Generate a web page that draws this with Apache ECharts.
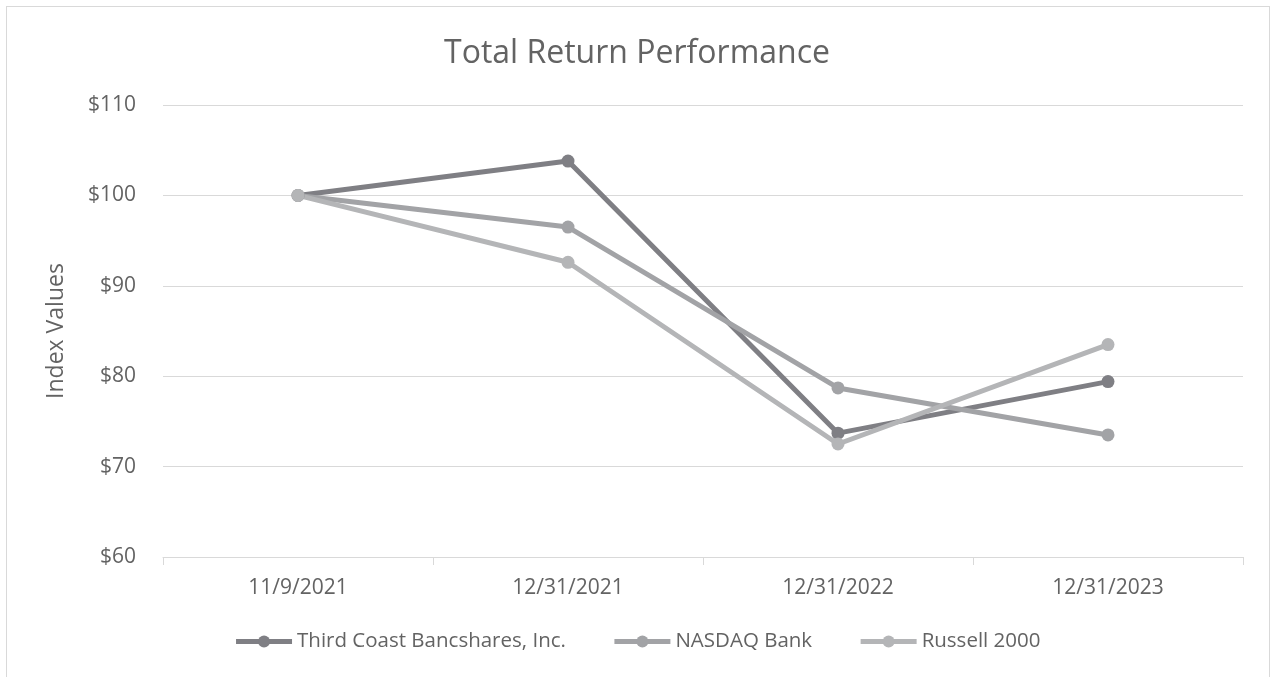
<!DOCTYPE html>
<html>
<head>
<meta charset="utf-8">
<script src="https://cdn.jsdelivr.net/npm/echarts@6/dist/echarts.min.js"></script>
<style>
  html, body { margin: 0; padding: 0; background: #fff; }
  #frame { position: absolute; left: 6px; top: 6px; width: 1262px; height: 680px; border: 1px solid #d9d9d9; border-bottom: none; }
  #chart { position: absolute; left: 0; top: 0; width: 1274px; height: 677px; }
</style>
</head>
<body>
<div id="frame"></div>
<div id="chart"></div>
<script>
// periods on the x axis
const periods = ['11/9/2021', '12/31/2021', '12/31/2022', '12/31/2023']

// index values
const thirdCoast = [100, 103.8, 73.7, 79.4]
const nasdaqBank = [100, 96.5, 78.7, 73.5]
const russell2000 = [100, 92.6, 72.5, 83.5]

const seriesNames = ['Third Coast Bancshares, Inc.', 'NASDAQ Bank', 'Russell 2000']
const seriesColors = ['#7f7f84', '#a2a3a6', '#b4b5b7']

const font = '"Open Sans", "Liberation Sans", sans-serif'
const textColor = '#636363'

const chart = echarts.init(document.getElementById('chart'))

function makeLine(name, data, color) {
  return {
    name,
    type: 'line',
    data,
    symbol: 'circle',
    symbolSize: 13,
    lineStyle: { width: 5, color },
    itemStyle: { color },
    z: 2,
  }
}

const option = {
  animation: false,
  title: {
    text: 'Total Return Performance',
    left: 'center',
    top: 33,
    textStyle: { fontFamily: font, fontSize: 32, fontWeight: 'normal', color: textColor },
  },
  legend: {
    bottom: 20,
    left: 'center',
    itemWidth: 56,
    itemHeight: 15,
    itemGap: 46,
    lineStyle: { width: 5 },
    textStyle: { fontFamily: font, fontSize: 20.5, color: textColor },
    data: seriesNames,
  },
  grid: { left: 163, right: 31, top: 105, bottom: 120 },
  xAxis: {
    type: 'category',
    data: periods,
    boundaryGap: true,
    axisLine: { lineStyle: { color: '#d9d9d9', width: 1 } },
    axisTick: { show: true, length: 8, lineStyle: { color: '#d9d9d9' } },
    axisLabel: { fontFamily: font, fontSize: 21, color: textColor, margin: 21 },
  },
  yAxis: {
    type: 'value',
    min: 60,
    max: 110,
    interval: 10,
    name: 'Index Values',
    nameLocation: 'middle',
    nameGap: 95,
    nameTextStyle: { fontFamily: font, fontSize: 23, color: textColor },
    axisLine: { show: false },
    axisTick: { show: false },
    splitLine: { lineStyle: { color: '#d9d9d9', width: 1 } },
    axisLabel: { fontFamily: font, fontSize: 21, color: textColor, margin: 27, formatter: v => '$' + v },
  },
  series: [
    makeLine(seriesNames[0], thirdCoast, seriesColors[0]),
    makeLine(seriesNames[1], nasdaqBank, seriesColors[1]),
    makeLine(seriesNames[2], russell2000, seriesColors[2]),
  ],
}

chart.setOption(option)
</script>
</body>
</html>
